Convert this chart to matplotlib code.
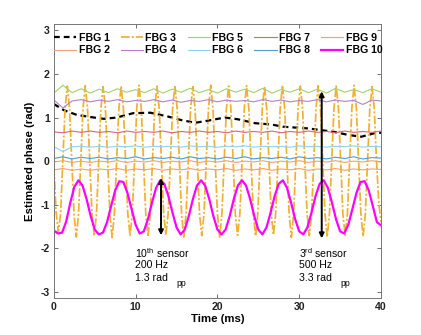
import numpy as np
import matplotlib
matplotlib.use("Agg")
import matplotlib.pyplot as plt

plt.rcParams['font.family'] = ['Liberation Sans', 'DejaVu Sans']
plt.rcParams['mathtext.fontset'] = 'custom'
plt.rcParams['mathtext.rm'] = 'Liberation Sans'
plt.rcParams['axes.unicode_minus'] = False

# ---------------- data ----------------
labels = ['FBG 1', 'FBG 2', 'FBG 3', 'FBG 4', 'FBG 5',
          'FBG 6', 'FBG 7', 'FBG 8', 'FBG 9', 'FBG 10']

t_fbg1 = [0, 1.2, 2.8, 4.9, 6.1, 7.7, 9.7, 11.8, 13.8, 15.6, 17.3, 18.9, 20.9,
          22.5, 24.6, 26.6, 28.0, 29.5, 31.1, 32.7, 34.3, 36.0, 37.6, 39.2, 40]
fbg1 = [1.31, 1.17, 1.06, 1.00, 0.97, 1.00, 1.10, 1.11, 1.03, 0.94, 0.88, 0.93,
        1.00, 0.96, 0.87, 0.84, 0.79, 0.77, 0.75, 0.71, 0.67, 0.60, 0.56, 0.64, 0.65]

fbg2 = [-0.02, 0.01, -0.03, 0.00, -0.03, 0.00, -0.02, 0.01, -0.03, 0.00, -0.02, 0.01,
        -0.03, 0.00, -0.02, 0.01, -0.03, 0.00, -0.02, 0.01, -0.03, 0.00, -0.02, 0.01,
        -0.03, 0.00, -0.02, 0.01, -0.03, 0.00, -0.02, 0.01, -0.03, 0.00, -0.02, 0.01, -0.02]

fbg3 = [
    -0.12, -1.18, -1.62, -1.20, 0.02, 1.22, 1.72, 1.20,
    0.00, -1.22, -1.74, -1.21, 0.01, 1.21, 1.73, 1.22,
    0.00, -1.20, -1.69, -1.22, 0.00, 1.22, 1.71, 1.21,
    0.01, -1.21, -1.75, -1.20, 0.00, 1.20, 1.72, 1.22,
    0.00, -1.22, -1.70, -1.21, 0.01, 1.21, 1.74, 1.20,
    0.00, -1.20, -1.73, -1.22, 0.00, 1.22, 1.72, 1.21,
    0.01, -1.21, -1.68, -1.20, 0.00, 1.21, 1.73, 1.22,
    0.00, -1.22, -1.74, -1.21, 0.01, 1.20, 1.71, 1.21,
    0.00, -1.20, -1.71, -1.22, 0.00, 1.22, 1.74, 1.20,
    0.01, -1.21, -1.76, -1.20, 0.00, 1.21, 1.72, 1.22,
    0.00, -1.22, -1.70, -1.21, 0.01, 1.22, 1.73, 1.21,
    0.00, -1.20, -1.72, -1.22, 0.00, 1.20, 1.71, 1.20,
    0.01, -1.21, -1.69, -1.20, 0.00, 1.21, 1.74, 1.22,
    0.00, -1.22, -1.75, -1.21, 0.01, 1.22, 1.72, 1.21,
    0.00, -1.20, -1.71, -1.22, 0.00, 1.21, 1.73, 1.20,
    0.01, -1.21, -1.74, -1.20, 0.00, 1.20, 1.72, 1.22,
    0.00, -1.22, -1.70, -1.21, 0.01, 1.22, 1.74, 1.21,
    0.00, -1.20, -1.73, -1.22, 0.00, 1.21, 1.71, 1.20,
    0.00, -0.95, -1.40]

fbg4 = [1.40, 1.22, 1.38, 1.41, 1.36, 1.40, 1.37, 1.41, 1.36, 1.39, 1.37, 1.41,
        1.36, 1.40, 1.35, 1.39, 1.37, 1.41, 1.36, 1.40, 1.37, 1.39, 1.36, 1.41,
        1.37, 1.40, 1.36, 1.39, 1.37, 1.41, 1.36, 1.40, 1.37, 1.39, 1.30, 1.40, 1.38]

fbg5 = [1.56, 1.74, 1.57, 1.66, 1.56, 1.65, 1.57, 1.66, 1.58, 1.64, 1.57, 1.66,
        1.56, 1.65, 1.58, 1.67, 1.57, 1.64, 1.56, 1.66, 1.58, 1.65, 1.57, 1.67,
        1.56, 1.64, 1.58, 1.66, 1.57, 1.65, 1.56, 1.67, 1.58, 1.64, 1.57, 1.66, 1.58]

fbg6 = [0.33, 0.22, 0.33, 0.34, 0.32, 0.34, 0.32, 0.34, 0.33, 0.35, 0.32, 0.34,
        0.33, 0.34, 0.32, 0.35, 0.33, 0.34, 0.32, 0.34, 0.33, 0.35, 0.32, 0.34,
        0.33, 0.34, 0.32, 0.35, 0.33, 0.34, 0.32, 0.34, 0.33, 0.35, 0.32, 0.34, 0.33]

fbg7 = [0.67, 0.65, 0.69, 0.66, 0.69, 0.66, 0.68, 0.65, 0.69, 0.66, 0.68, 0.66,
        0.69, 0.65, 0.68, 0.66, 0.69, 0.66, 0.68, 0.65, 0.69, 0.66, 0.68, 0.66,
        0.69, 0.65, 0.68, 0.66, 0.69, 0.66, 0.68, 0.65, 0.69, 0.66, 0.68, 0.66, 0.69]

fbg8 = [0.06, 0.10, 0.05, 0.09, 0.06, 0.09, 0.05, 0.08, 0.06, 0.10, 0.05, 0.08,
        0.06, 0.09, 0.05, 0.10, 0.06, 0.08, 0.05, 0.09, 0.06, 0.10, 0.05, 0.08,
        0.06, 0.09, 0.05, 0.10, 0.06, 0.08, 0.05, 0.09, 0.06, 0.10, 0.05, 0.08, 0.07]

fbg9 = [-0.20, -0.17, -0.21, -0.18, -0.21, -0.18, -0.20, -0.17, -0.21, -0.18, -0.20, -0.17,
        -0.21, -0.18, -0.20, -0.17, -0.21, -0.18, -0.20, -0.17, -0.21, -0.18, -0.20, -0.17,
        -0.21, -0.18, -0.20, -0.17, -0.21, -0.18, -0.20, -0.17, -0.21, -0.18, -0.20, -0.18, -0.19]

fbg10 = [-1.59, -1.66, -1.64, -1.39, -0.96, -0.59, -0.44, -0.56, -0.87, -1.26,
         -1.57, -1.68, -1.64, -1.40, -1.03, -0.67, -0.46, -0.48, -0.73, -1.10,
         -1.46, -1.66, -1.61, -1.33, -0.95, -0.61, -0.44, -0.52, -0.80, -1.18,
         -1.52, -1.68, -1.57, -1.26, -0.87, -0.56, -0.44, -0.56, -0.87, -1.26,
         -1.57, -1.68, -1.57, -1.26, -0.87, -0.56, -0.44, -0.56, -0.87, -1.26,
         -1.57, -1.68, -1.52, -1.18, -0.80, -0.52, -0.44, -0.61, -0.95, -1.33,
         -1.61, -1.68, -1.52, -1.18, -0.80, -0.52, -0.44, -0.61, -0.95, -1.33,
         -1.61, -1.66, -1.46, -1.10, -0.73, -0.48, -0.46, -0.67, -1.03, -1.40,
         -1.47]

colors = ['black', '#f4a07a', '#f0b032', '#b580c8', '#a5d06c',
          '#90d2f2', '#d46878', '#4f9cd6', '#f6a062', '#ff00ff']

series = [fbg1, fbg2, fbg3, fbg4, fbg5, fbg6, fbg7, fbg8, fbg9, fbg10]

# ---------------- figure ----------------
fig = plt.figure(figsize=(4.21, 3.35), dpi=100)
ax = fig.add_axes([0.128, 0.110, 0.777, 0.818])

for i, (vals, lab, col) in enumerate(zip(series, labels, colors)):
    if i == 0:
        ax.plot(t_fbg1, vals, color=col, lw=1.6, dashes=(2.6, 1.8), label=lab)
    else:
        tt = np.linspace(0, 40, len(vals))
        if i == 2:
            ax.plot(tt, vals, color=col, lw=1.25, dashes=(5, 1.2, 1.2, 1.2), label=lab)
        elif i == 9:
            ax.plot(tt, vals, color=col, lw=1.6, label=lab)
        else:
            ax.plot(tt, vals, color=col, lw=0.8, label=lab)

arrow_kw = dict(arrowstyle='<|-|>', color='black', lw=1.4,
                mutation_scale=7, shrinkA=0, shrinkB=0)
ax.annotate('', xy=(13.1, -0.39), xytext=(13.1, -1.70), arrowprops=arrow_kw)
ax.annotate('', xy=(32.75, 1.60), xytext=(32.75, -1.77), arrowprops=arrow_kw)

tfs = 7.6
ax.text(9.9, -2.11, r'10$^{\rm th}$ sensor', fontsize=tfs, va='center', ha='left')
ax.text(9.9, -2.39, '200 Hz', fontsize=tfs, va='center', ha='left')
ax.text(9.9, -2.67, '1.3 rad', fontsize=tfs, va='center', ha='left')
ax.text(15.0, -2.80, 'pp', fontsize=6.2, va='center', ha='left')
ax.text(30.0, -2.11, r'3$^{\rm rd}$ sensor', fontsize=tfs, va='center', ha='left')
ax.text(30.0, -2.39, '500 Hz', fontsize=tfs, va='center', ha='left')
ax.text(30.0, -2.67, '3.3 rad', fontsize=tfs, va='center', ha='left')
ax.text(35.0, -2.80, 'pp', fontsize=6.2, va='center', ha='left')

ax.set_xlim(0, 40)
ax.set_ylim(-np.pi, np.pi)
ax.set_xticks([0, 10, 20, 30, 40])
ax.set_yticks([-3, -2, -1, 0, 1, 2, 3])
ax.tick_params(direction='in', top=True, right=True, length=3, width=0.6,
               color='#555555', labelsize=7.6, pad=3)
for lbl in ax.get_xticklabels() + ax.get_yticklabels():
    lbl.set_fontweight('bold')
    lbl.set_color('#222222')
for sp in ax.spines.values():
    sp.set_color('#777777')
    sp.set_linewidth(0.7)

ax.set_xlabel('Time (ms)', fontsize=8.2, fontweight='bold', labelpad=1)
ax.set_ylabel('Estimated phase (rad)', fontsize=8.2, fontweight='bold', labelpad=4)

leg = ax.legend(loc='upper left', bbox_to_anchor=(0.0, 0.967), ncol=5, frameon=False,
                prop={'weight': 'bold', 'size': 7.6}, handlelength=2.1,
                handletextpad=0.25, columnspacing=1.05, labelspacing=0.2,
                borderaxespad=0, borderpad=0)

fig.savefig('out.png', dpi=100)
